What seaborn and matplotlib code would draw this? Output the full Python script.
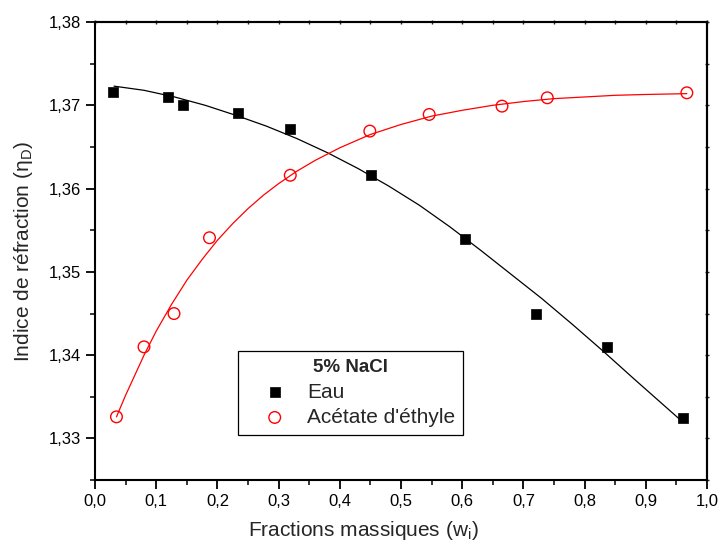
import numpy as np
import pandas as pd
import matplotlib
matplotlib.use("Agg")
import matplotlib.pyplot as plt
from matplotlib.ticker import MultipleLocator, FuncFormatter, NullFormatter
import seaborn as sns

#   Measured points (mass fraction, refractive index)
eau_w = [0.029, 0.119, 0.143, 0.233, 0.319, 0.451, 0.605, 0.720, 0.836, 0.960]
eau_n = [1.3716, 1.3710, 1.3700, 1.3691, 1.3671, 1.3616, 1.3540, 1.3450, 1.3410, 1.3325]

acet_w = [0.035, 0.080, 0.129, 0.187, 0.319, 0.449, 0.546, 0.665, 0.739, 0.967]
acet_n = [1.3326, 1.3410, 1.3450, 1.3541, 1.3616, 1.3669, 1.3689, 1.3699, 1.3709, 1.3715]

#   Fitted curves
eau_fit_w = [0.031, 0.08, 0.13, 0.18, 0.23, 0.28, 0.33, 0.38, 0.43, 0.48, 0.53, 0.58, 0.63,
             0.68, 0.73, 0.78, 0.83, 0.88, 0.92, 0.96]
eau_fit_n = [1.3723, 1.3718, 1.3710, 1.3700, 1.3688, 1.3675, 1.3660, 1.3643, 1.3624, 1.3603,
             1.3580, 1.3554, 1.3526, 1.3497, 1.3468, 1.3437, 1.3405, 1.3372, 1.3346, 1.3320]

acet_fit_w = [0.035, 0.05, 0.065, 0.08, 0.10, 0.125, 0.15, 0.175, 0.20, 0.225, 0.25, 0.275, 0.30,
              0.33, 0.36, 0.40, 0.45, 0.50, 0.55, 0.60, 0.65, 0.70, 0.75, 0.80, 0.85, 0.90, 0.967]
acet_fit_n = [1.3326, 1.3352, 1.3376, 1.3400, 1.3429, 1.3461, 1.3490, 1.3515, 1.3538, 1.3558,
              1.3576, 1.3592, 1.3606, 1.3621, 1.3634, 1.3649, 1.3665, 1.3677, 1.3687, 1.3694,
              1.3700, 1.37045, 1.3708, 1.3710, 1.3712, 1.3713, 1.3714]

#   Settings
sns.set_style("ticks")
plt.rcParams['font.family'] = ['Liberation Sans', 'DejaVu Sans']
plt.rcParams['mathtext.fontset'] = 'custom'
plt.rcParams['mathtext.rm'] = 'Liberation Sans'

fig = plt.figure(figsize=(7.2, 5.5), dpi=100)
ax = fig.add_axes([0.132, 0.127, 0.85, 0.833])

#   Curves
sns.lineplot(x=eau_fit_w, y=eau_fit_n, color='black', lw=0.9, sort=False, ax=ax, legend=False)
sns.lineplot(x=acet_fit_w, y=acet_fit_n, color='red', lw=0.9, sort=False, ax=ax, legend=False)

#   Points
sns.scatterplot(x=eau_w, y=eau_n, marker='s', s=55, color='black', edgecolor='black',
                linewidth=0.5, ax=ax, label='Eau', zorder=3)
sns.scatterplot(x=acet_w, y=acet_n, marker='o', s=70, facecolor='none', edgecolor='red',
                linewidth=1.0, ax=ax, label="Acétate d'éthyle", zorder=3)

#   Axes
ax.set_xlim(0, 1.0)
ax.set_ylim(1.325, 1.38)
ax.xaxis.set_major_locator(MultipleLocator(0.1))
ax.xaxis.set_minor_locator(MultipleLocator(0.05))
ax.yaxis.set_major_locator(MultipleLocator(0.01))
ax.yaxis.set_minor_locator(MultipleLocator(0.005))
ax.xaxis.set_major_formatter(FuncFormatter(lambda v, p: ("%.1f" % v).replace('.', ',')))
ax.yaxis.set_major_formatter(FuncFormatter(lambda v, p: ("%.2f" % v).replace('.', ',')))
ax.tick_params(which='major', direction='out', length=6.5, width=1.3, labelsize=12, colors='black')
ax.tick_params(which='minor', direction='out', length=3.5, width=1.3)
for sp in ax.spines.values():
    sp.set_linewidth(1.5)
    sp.set_color('black')

#   Small ticks on top and right axes
top = ax.secondary_xaxis('top')
right = ax.secondary_yaxis('right')
for sec, axis in [(top, top.xaxis), (right, right.yaxis)]:
    axis.set_major_locator(MultipleLocator(0.1 if sec is top else 0.01))
    axis.set_minor_locator(MultipleLocator(0.05 if sec is top else 0.005))
    axis.set_major_formatter(NullFormatter())
    sec.tick_params(which='both', direction='inout', length=3, width=1.0)
    for sp in sec.spines.values():
        sp.set_linewidth(1.5)

ax.set_xlabel("Fractions massiques (w$_\\mathregular{i}$)", fontsize=15, labelpad=12)
ax.xaxis.set_label_coords(0.438, -0.085)
ax.set_ylabel("Indice de réfraction (η$_\\mathregular{D}$)", fontsize=15, labelpad=10)

#   Legend
leg = ax.legend(title="5% NaCl", loc='lower left', bbox_to_anchor=(0.234, 0.098),
                borderaxespad=0., fontsize=15, title_fontproperties={'weight': 'bold', 'size': 13.5},
                fancybox=False, framealpha=1, edgecolor='black', handletextpad=0.2,
                borderpad=0.4, labelspacing=0.3, handlelength=2.7, markerscale=1.0)
leg.get_frame().set_linewidth(0.9)

plt.savefig("out.png", dpi=100)
